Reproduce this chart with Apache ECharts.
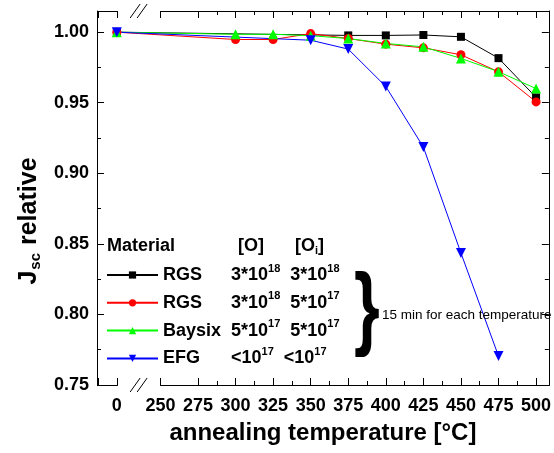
<!DOCTYPE html>
<html><head><meta charset="utf-8">
<script src="https://cdn.jsdelivr.net/npm/echarts@6/dist/echarts.min.js"></script>
<style>html,body{margin:0;padding:0;background:#fff}#c{width:554px;height:453px}</style>
</head><body><div id="c"></div>
<script>
// annealing temperatures (°C)
const tempsAll = [0, 300, 325, 350, 375, 400, 425, 450, 475, 500];
const tempsRgsHigh = [0, 375, 400, 425, 450, 475, 500];
const tempsEfg = [0, 350, 375, 400, 425, 450, 475];
// relative Jsc
const rgsHigh = [1.000, 0.9977, 0.9977, 0.998, 0.9967, 0.9816, 0.9538];
const rgsLow = [1.000, 0.9948, 0.9948, 0.999, 0.9955, 0.9915, 0.9889, 0.984, 0.9719, 0.9506];
const baysix = [1.000, 0.9985, 0.9985, 0.9975, 0.9955, 0.992, 0.9896, 0.9814, 0.972, 0.960];
const efg = [1.000, 0.9943, 0.988, 0.9615, 0.9186, 0.8435, 0.7705];
const xTickLabels = [0, 250, 275, 300, 325, 350, 375, 400, 425, 450, 475, 500];

const legendRows = {
  'RGS a': ['RGS', '3*10', '18', '3*10', '18'],
  'RGS b': ['RGS', '3*10', '18', '5*10', '17'],
  'Baysix': ['Baysix', '5*10', '17', '5*10', '17'],
  'EFG': ['EFG', '<10', '17', '<10', '17']
};

function pairs(xs, ys) { return xs.map((x, i) => [x, ys[i]]); }

const FONT = 'Liberation Sans, Arial, sans-serif';
const chart = echarts.init(document.getElementById('c'), null, {renderer: 'canvas'});

const xBase = {
  type: 'value', min: -25, max: 508.5, interval: 25,
  breaks: [{start: -25, end: -12.5, gap: 0.7}, {start: 0, end: 250, gap: 29}],
  breakArea: {show: false},
  axisLine: {show: true, onZero: false, lineStyle: {color: '#000', width: 1}},
  axisTick: {show: true, inside: true, length: 7, lineStyle: {color: '#000'}},
  minorTick: {show: true, splitNumber: 2, length: 4, lineStyle: {color: '#000'}},
  splitLine: {show: false}, minorSplitLine: {show: false}
};
const yBase = {
  type: 'value', min: 0.75, max: 1.015, interval: 0.05,
  axisLine: {show: true, onZero: false, lineStyle: {color: '#000', width: 1}},
  axisTick: {show: true, inside: true, length: 7, lineStyle: {color: '#000'}},
  minorTick: {show: true, splitNumber: 2, length: 4, lineStyle: {color: '#000'}},
  splitLine: {show: false}, minorSplitLine: {show: false}
};

function mk(name, data, color, symbol, size, rot) {
  return {
    name, type: 'line', data, xAxisIndex: 0, yAxisIndex: 0,
    symbol, symbolSize: size, symbolRotate: rot || 0,
    itemStyle: {color}, lineStyle: {color, width: 1},
    animation: false, z: 3
  };
}

function xFmt(v) {
  const r = Math.round(v);
  return (Math.abs(v - r) < 1e-6 && xTickLabels.indexOf(r) >= 0) ? String(r) : '';
}

const option = {
  animation: false,
  backgroundColor: '#fff',
  grid: {left: 94, right: 3, top: 11, bottom: 68},
  xAxis: [
    Object.assign({}, xBase, {
      position: 'bottom',
      axisLabel: {
        show: true, margin: 12, color: '#000', fontFamily: FONT, fontWeight: 'bold', fontSize: 18,
        formatter: xFmt, showMinLabel: true, showMaxLabel: true
      },
      name: 'annealing temperature [°C]', nameLocation: 'middle', nameGap: 36,
      nameTextStyle: {color: '#000', fontFamily: FONT, fontWeight: 'bold', fontSize: 24}
    }),
    Object.assign({}, xBase, {position: 'top', axisLabel: {show: false}})
  ],
  yAxis: [
    Object.assign({}, yBase, {
      position: 'left',
      axisLabel: {
        show: true, margin: 8, color: '#000', fontFamily: FONT, fontWeight: 'bold', fontSize: 18,
        showMaxLabel: false, formatter: v => v.toFixed(2)
      },
      name: '{a|J}{b|sc}{a| relative}', nameLocation: 'middle', nameRotate: 90, nameGap: 54,
      nameTextStyle: {
        color: '#000', fontFamily: FONT, fontWeight: 'bold', fontSize: 25, padding: [0, 46, 0, 0],
        rich: {
          a: {fontFamily: FONT, fontWeight: 'bold', fontSize: 25, color: '#000'},
          b: {fontFamily: FONT, fontWeight: 'bold', fontSize: 15, color: '#000', padding: [12, 1, 0, 1]}
        }
      }
    }),
    Object.assign({}, yBase, {position: 'right', axisLabel: {show: false}})
  ],
  legend: {
    orient: 'vertical', left: 101, top: 258, itemWidth: 51, itemHeight: 9, itemGap: 6.8,
    data: ['RGS a', 'RGS b', 'Baysix', 'EFG'],
    formatter: function (name) {
      const r = legendRows[name];
      return '{n|' + r[0] + '}{v|' + r[1] + '}{s|' + r[2] + '}{g| }{v|' + r[3] + '}{s|' + r[4] + '}';
    },
    textStyle: {
      color: '#000', fontFamily: FONT, fontWeight: 'bold', fontSize: 18,
      rich: {
        n: {fontFamily: FONT, fontWeight: 'bold', fontSize: 18, width: 68, color: '#000'},
        v: {fontFamily: FONT, fontWeight: 'bold', fontSize: 18, color: '#000'},
        s: {fontFamily: FONT, fontWeight: 'bold', fontSize: 11, color: '#000', padding: [0, 0, 13, 0]},
        g: {fontSize: 18, width: 10}
      }
    }
  },
  series: [
    mk('RGS a', pairs(tempsRgsHigh, rgsHigh), '#000000', 'rect', 8),
    mk('RGS b', pairs(tempsAll, rgsLow), '#ff0000', 'circle', 9),
    mk('Baysix', pairs(tempsAll, baysix), '#00ff00', 'triangle', 10),
    mk('EFG', pairs(tempsEfg, efg), '#0000ff', 'triangle', 10, 180)
  ]
};
chart.setOption(option);

// decorations: axis-break marks, table header, brace and note
const p0 = chart.convertToPixel({xAxisIndex: 0}, 0);
const p250 = chart.convertToPixel({xAxisIndex: 0}, 250);
const bx = (p0 + p250) / 2;
const yb = chart.convertToPixel({yAxisIndex: 0}, 0.75);
const yt = chart.convertToPixel({yAxisIndex: 0}, 1.015);
function slashes(y) {
  return [-3.5, 3.5].map(dx => ({
    type: 'line', shape: {x1: bx + dx - 5, y1: y + 7, x2: bx + dx + 5, y2: y - 7},
    style: {stroke: '#000', lineWidth: 1}, z: 10
  }));
}
chart.setOption({
  graphic: [].concat(slashes(yb), slashes(yt), [
    {
      type: 'text', left: 107, top: 237, z: 10,
      style: {
        text: '{n|Material}{o|[O]}{v|[O}{i|i}{v|]}',
        rich: {
          n: {fontFamily: FONT, fontWeight: 'bold', fontSize: 18, width: 131, fill: '#000'},
          o: {fontFamily: FONT, fontWeight: 'bold', fontSize: 18, width: 57, fill: '#000'},
          v: {fontFamily: FONT, fontWeight: 'bold', fontSize: 18, fill: '#000'},
          i: {fontFamily: FONT, fontWeight: 'bold', fontSize: 11, fill: '#000', padding: [10, 0, 0, 0]}
        }
      }
    },
    {
      type: 'text', x: 367, y: 313, scaleX: 0.72, z: 10,
      style: {text: '}', fontFamily: FONT, fontWeight: 'bold', fontSize: 92, fill: '#000', align: 'center', verticalAlign: 'middle'}
    },
    {
      type: 'text', x: 382, y: 315, z: 10,
      style: {text: '15 min for each temperature', fontFamily: FONT, fontSize: 13.5, fill: '#000', align: 'left', verticalAlign: 'middle'}
    }
  ])
});
</script>
</body></html>
